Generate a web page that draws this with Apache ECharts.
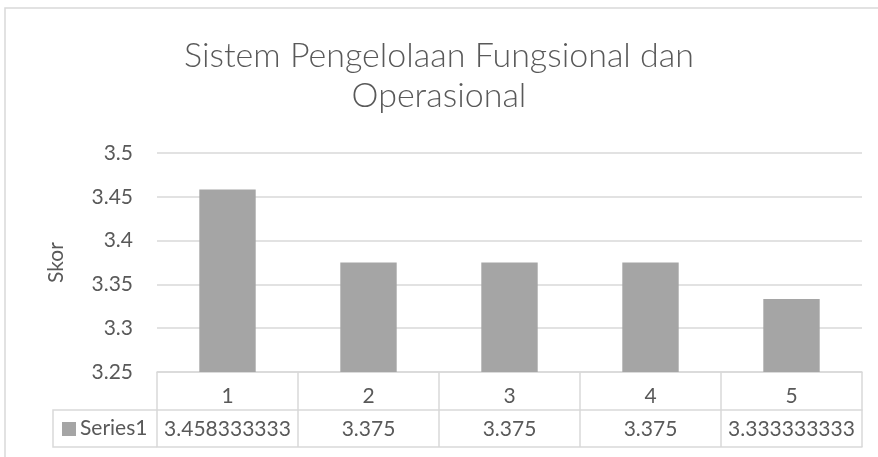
<!DOCTYPE html>
<html>
<head>
<meta charset="utf-8">
<script src="https://cdn.jsdelivr.net/npm/echarts@6/dist/echarts.min.js"></script>
<style>
  html, body { margin: 0; padding: 0; background: #fff; }
  #main { width: 878px; height: 457px; }
</style>
</head>
<body>
<div id="main"></div>
<script>
// data
var categories = ['1', '2', '3', '4', '5'];
var skor = [3.458333333, 3.375, 3.375, 3.375, 3.333333333];
var seriesName = 'Series1';
var yTicks = { min: 3.25, max: 3.5, step: 0.05 };

var FONT = 'Lato';
var TXT = '#595959';
var LINE = '#d9d9d9';

var gridLeft = 157, gridRight = 16, gridTop = 153, gridBottom = 85;
var row1 = 38, row2 = 37;
var axisY = 457 - gridBottom;

var chart = echarts.init(document.getElementById('main'));

chart.setOption({
	textStyle: { fontFamily: FONT },
	title: {
		text: 'Sistem Pengelolaan Fungsional dan\nOperasional',
		left: 'center',
		top: 31,
		textStyle: { fontFamily: FONT, fontSize: 34, fontWeight: 300, color: TXT, lineHeight: 40 }
	},
	grid: { left: gridLeft, right: gridRight, top: gridTop, bottom: gridBottom },
	xAxis: [{
		type: 'category',
		data: categories,
		axisLine: { lineStyle: { color: LINE, width: 1.5 } },
		axisTick: { show: true, length: row1 + row2, lineStyle: { color: LINE, width: 1.5 } },
		axisLabel: { color: TXT, fontSize: 21, margin: 14, interval: 0, hideOverlap: false }
	}, {
		type: 'category',
		data: skor.map(String),
		position: 'bottom',
		offset: row1,
		axisLine: { lineStyle: { color: LINE, width: 1.5 } },
		axisTick: { show: false },
		axisLabel: { color: TXT, fontSize: 21, margin: 9, interval: 0, hideOverlap: false }
	}, {
		type: 'category',
		data: categories,
		position: 'bottom',
		offset: row1 + row2,
		axisLine: { lineStyle: { color: LINE, width: 1.5 } },
		axisTick: { show: false },
		axisLabel: { show: false }
	}],
	yAxis: {
		type: 'value',
		min: yTicks.min,
		max: yTicks.max,
		interval: yTicks.step,
		name: 'Skor',
		nameLocation: 'middle',
		nameGap: 90,
		nameTextStyle: { color: TXT, fontSize: 21, fontFamily: FONT },
		axisLine: { show: false },
		axisTick: { show: false },
		splitLine: { lineStyle: { color: LINE, width: 1.5 } },
		axisLabel: {
			color: TXT, fontSize: 21, margin: 24,
			formatter: function (v) { return String(+v.toFixed(2)); }
		}
	},
	series: [{
		name: seriesName,
		type: 'bar',
		data: skor,
		barWidth: '40%',
		itemStyle: { color: '#a5a5a5' },
		animation: false
	}],
	graphic: [{
		type: 'rect',
		shape: { x: 5, y: 8, width: 1000, height: 1000 },
		style: { fill: 'none', stroke: LINE, lineWidth: 1.5 },
		silent: true
	}, {
		type: 'polyline',
		shape: { points: [[gridLeft, axisY + row1], [53, axisY + row1], [53, axisY + row1 + row2], [gridLeft, axisY + row1 + row2]] },
		style: { fill: 'none', stroke: LINE, lineWidth: 1.5 }
	}, {
		type: 'rect',
		shape: { x: 62, y: axisY + row1 + 12, width: 14, height: 14 },
		style: { fill: '#a5a5a5' }
	}, {
		type: 'text',
		x: 80,
		y: axisY + row1 + 18,
		style: { text: seriesName, fill: TXT, fontSize: 21, fontFamily: FONT, verticalAlign: 'middle' }
	}]
});
</script>
</body>
</html>
